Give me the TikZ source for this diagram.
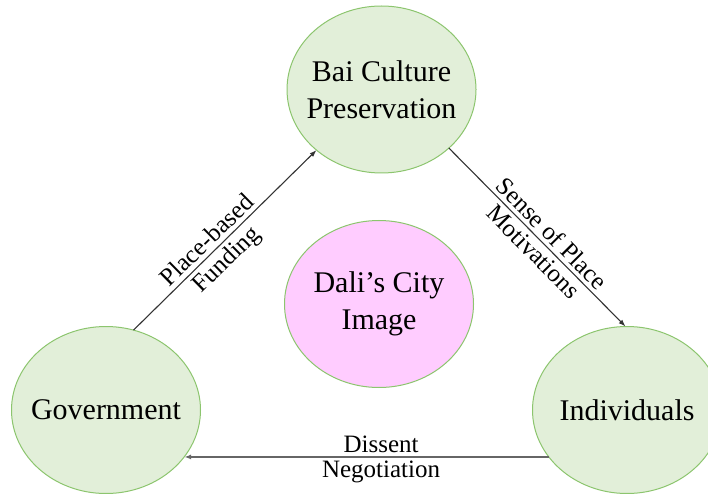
\documentclass[tikz,border=0pt]{standalone}
\usepackage{fontspec}
\setmainfont{Liberation Serif}
\usetikzlibrary{shapes.geometric,arrows.meta}
\definecolor{nodegreen}{HTML}{E2EFD9}
\definecolor{nodepink}{HTML}{FFCCFF}
\definecolor{bordergreen}{HTML}{8CC56E}
\definecolor{arrowgray}{HTML}{333333}
\begin{document}
\begin{tikzpicture}[x=1pt,y=1pt,
  bubble/.style={ellipse, draw=bordergreen, line width=1pt, fill=nodegreen,
    minimum width=189pt, minimum height=167pt, inner sep=0pt, outer sep=0pt},
  centerbubble/.style={bubble, fill=nodepink},
  btext/.style={align=center, font=\fontsize{30}{37}\selectfont, inner sep=0pt},
  link/.style={draw=arrowgray, line width=1.1pt, -{Latex[length=7pt,width=5pt]}},
  lbl/.style={font=\fontsize{25}{30}\selectfont, inner sep=4pt}
]
\useasboundingbox (0,0) rectangle (708,493);
\begin{scope}
\clip (0,0) rectangle (708,493);
\node[bubble] (bai) at (381.5,403.5) {};
\node[bubble] (gov) at (106,83) {};
\node[bubble] (ind) at (627,83) {};
\node[centerbubble] (dali) at (379,189) {};
\end{scope}
\node[btext] (baitext) at (bai.center) {Bai Culture\\Preservation};
\node[btext] (govtext) at (gov.center) {Government};
\node[btext] (indtext) at (ind.center) {Individuals};
\node[btext] (dalitext) at (dali.center) {Dali’s City\\Image};
\draw[link] (gov.71) -- node[lbl, pos=0.45, sloped, above] {Place-based} node[lbl, pos=0.45, sloped, below] {Funding} (bai.223);
\draw[link] (bai.319) -- node[lbl, pos=0.53, sloped, above] {Sense of Place} node[lbl, pos=0.53, sloped, below] {Motivations} (ind.91);
\draw[link, draw=gray!80!black, line width=1.5pt] (ind.211) -- node[lbl, pos=0.46, above, inner sep=3pt] {Dissent} node[lbl, pos=0.46, below, inner sep=3pt] {Negotiation} (gov.329);
\end{tikzpicture}
\end{document}
